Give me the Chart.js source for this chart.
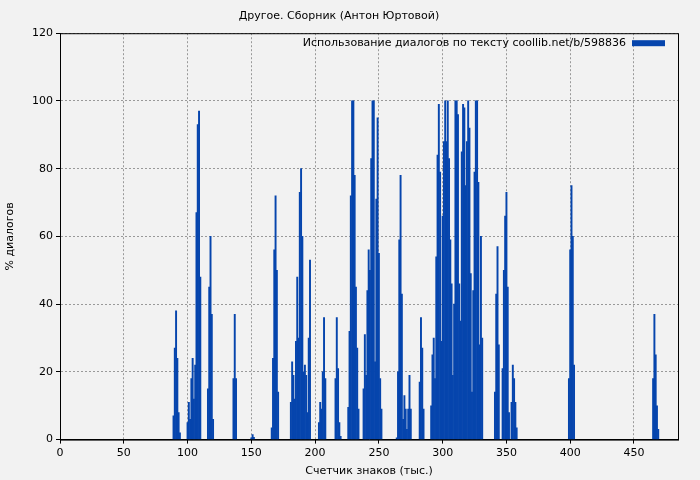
<!DOCTYPE html>
<html>
<head>
<meta charset="utf-8">
<script src="https://cdn.jsdelivr.net/npm/chart.js@4/dist/chart.umd.min.js"></script>
<style>
  html, body { margin: 0; padding: 0; background: #f2f2f2; }
  #wrap { width: 700px; height: 480px; }
</style>
</head>
<body>
<div id="wrap"><canvas id="myChart" width="700" height="480"></canvas></div>
<script>
// position in text (thousand chars) and % of dialogue
var xs = [89, 90, 91, 92, 93, 94,
  100, 101, 102, 103, 104, 105, 106, 107, 108, 109, 110,
  116, 117, 118, 119, 120, 136, 137, 138, 150, 151, 152,
  166, 167, 168, 169, 170, 171,
  181, 182, 183, 184, 185, 186, 187, 188, 189, 190, 191, 192, 193, 194, 195, 196,
  203, 204, 205, 206, 207, 208, 216, 217, 218, 219, 220,
  226, 227, 228, 229, 230, 231, 232, 233, 234,
  238, 239, 240, 241, 242, 243, 244, 245, 246, 247, 248, 249, 250, 251, 252,
  264, 265, 266, 267, 268, 269, 270, 271, 272, 273, 274, 275,
  282, 283, 284, 285,
  291, 292, 293, 294, 295, 296, 297, 298, 299, 300, 301, 302, 303, 304, 305, 306, 307, 308, 309, 310, 311, 312, 313,
  314, 315, 316, 317, 318, 319, 320, 321, 322, 323, 324, 325, 326, 327, 328, 329, 330, 331,
  341, 342, 343, 344, 347, 348, 349, 350, 351, 352, 354, 355, 356, 357, 358,
  399, 400, 401, 402, 403, 465, 466, 467, 468, 469];
var ys = [7, 27, 38, 24, 8, 2,
  5, 11, 6, 18, 24, 12, 22, 67, 93, 97, 48,
  15, 45, 60, 37, 6, 18, 37, 18, 0.5, 1.5, 0.7,
  3.5, 24, 56, 72, 50, 14,
  11, 23, 19, 12, 29, 48, 30, 73, 80, 60, 20, 22, 19, 8, 30, 53,
  5, 11, 9, 20, 36, 18, 18, 36, 21, 5, 1,
  9.5, 32, 72, 100, 100, 78, 45, 27, 9,
  15, 31, 19, 44, 56, 50, 83, 100, 100, 23, 71, 95, 55, 18, 9,
  0.5, 20, 59, 78, 43, 6, 13, 9, 3, 9, 19, 9,
  17, 36, 27, 9,
  10, 25, 30, 18, 54, 84, 99, 79, 29, 66, 88, 100, 88, 100, 83, 59, 46, 19, 40, 100, 100, 96, 46,
  35, 85, 99, 98, 75, 88, 100, 92, 49, 14, 44, 79, 100, 100, 76, 28, 60, 30,
  14, 43, 57, 28, 21, 50, 66, 73, 45, 8, 11, 22, 18, 11, 3.5,
  18, 56, 75, 60, 22, 18, 37, 25, 10, 3];
var xTicks = [0, 50, 100, 150, 200, 250, 300, 350, 400, 450];
var seriesName = 'Использование диалогов по тексту coollib.net/b/598836';
var titleText = 'Другое. Сборник (Антон Юртовой)';

var points = xs.map(function (x, i) { return { x: x, y: ys[i] }; });
var font = { family: 'DejaVu Sans', size: 11 };
var blue = '#0645ad';

// legend drawn inside the plot, top right
var innerLegend = {
  id: 'innerLegend',
  afterDraw: function (chart) {
    var ctx = chart.ctx, a = chart.chartArea;
    ctx.save();
    ctx.font = '11px "DejaVu Sans"';
    ctx.fillStyle = '#000';
    ctx.textBaseline = 'middle';
    ctx.textAlign = 'right';
    ctx.fillText(seriesName, a.right - 52, a.top + 10);
    ctx.fillStyle = blue;
    ctx.fillRect(a.right - 46, a.top + 7, 33, 6);
    ctx.restore();
  }
};

new Chart(document.getElementById('myChart').getContext('2d'), {
  type: 'bar',
  data: {
    datasets: [{
      label: seriesName,
      data: points,
      backgroundColor: blue,
      borderWidth: 0,
      barPercentage: 1,
      categoryPercentage: 1
    }]
  },
  options: {
    responsive: false,
    animation: false,
    layout: { padding: { top: 0, right: 22, bottom: 0, left: 0 } },
    plugins: {
      legend: { display: false },
      tooltip: { enabled: false },
      title: { display: true, text: titleText, color: '#000', font: { family: 'DejaVu Sans', size: 11, weight: 'normal' }, padding: { top: 10, bottom: 10 } }
    },
    scales: {
      x: {
        type: 'linear', min: 0, max: 484.5, offset: false,
        afterBuildTicks: function (s) { s.ticks = xTicks.map(function (v) { return { value: v }; }); },
        ticks: { color: '#000', font: font, maxRotation: 0 },
        grid: { color: '#999', tickColor: '#000', tickLength: 4, offset: false },
        border: { color: '#000', dash: [2, 2] },
        title: { display: true, text: 'Счетчик знаков (тыс.)', color: '#000', font: font, padding: 2 }
      },
      y: {
        min: 0, max: 120,
        ticks: { stepSize: 20, color: '#000', font: font },
        grid: { color: '#999', tickColor: '#000', tickLength: 4 },
        border: { color: '#000', dash: [2, 2] },
        title: { display: true, text: '% диалогов', color: '#000', font: font },
        afterFit: function (s) { s.width = 60; }
      }
    }
  },
  plugins: [innerLegend, {
    id: 'frame',
    beforeDraw: function (chart) {
      var ctx = chart.ctx;
      ctx.save();
      ctx.fillStyle = '#f2f2f2';
      ctx.fillRect(0, 0, chart.width, chart.height);
      ctx.restore();
    },
    afterDraw: function (chart) {
      var ctx = chart.ctx, a = chart.chartArea;
      ctx.save();
      ctx.strokeStyle = '#000';
      ctx.lineWidth = 1;
      ctx.strokeRect(a.left + 0.5, a.top + 0.5, a.right - a.left, a.bottom - a.top);
      ctx.restore();
    }
  }]
});
</script>
</body>
</html>
